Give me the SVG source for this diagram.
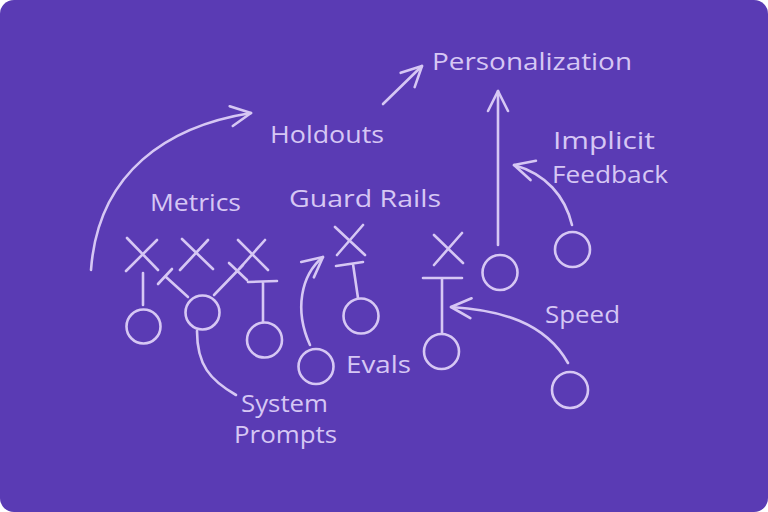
<svg xmlns="http://www.w3.org/2000/svg" width="768" height="512" viewBox="0 0 768 512">
<defs>
<style>
.ln{fill:none;stroke:#d6c7f4;stroke-width:2.6;stroke-linecap:round;stroke-linejoin:round}
.lb{font-family:"Open Sans","Liberation Sans",sans-serif;font-size:24px;fill:#d6c7f4;}
</style>
<marker id="ah" viewBox="-24 -14 28 28" markerWidth="28" markerHeight="28" refX="0" refY="0" orient="auto" markerUnits="userSpaceOnUse">
<path d="M-20,-10 L0,0 L-20,10" fill="none" stroke="#d6c7f4" stroke-width="2.6" stroke-linecap="round" stroke-linejoin="round"/>
</marker>
</defs>
<rect x="0" y="0" width="768" height="512" fill="#ffffff"/>
<rect x="0" y="0" width="768" height="512" rx="14" fill="#5a3bb4"/>

<g id="connectors" class="ln">
<path d="M91,270 C98,172 168,126 251,113" marker-end="url(#ah)"/>
<path d="M383,104 L422,66" marker-end="url(#ah)"/>
<path d="M498,245 L498,91" marker-end="url(#ah)"/>
<path d="M572,225 C565,196 546,174 514,165" marker-end="url(#ah)"/>
<path d="M568,363 C545,322 500,310 451,307" marker-end="url(#ah)"/>
<path d="M310,345 C294,310 301,275 323,257" marker-end="url(#ah)"/>
<path d="M197,331 C197,365 210,380 236,395"/>
<path d="M143,273 L143,305"/>
<path d="M188,297 L166,277 M158,284 L172,269"/>
<path d="M214,295 L243,265 M229,263 L247,280"/>
<path d="M263,322 L263,282 M248,282 L277,281"/>
<path d="M358,298 L353,264 M336,266 L363,262"/>
<path d="M442,333 L442,279 M423,278 L462,278"/>
</g>

<g id="x1" class="ln"><path d="M127,238 L158,270 M157,240 L126,271"/></g>
<g id="x2" class="ln"><path d="M182,239 L213,269 M208,240 L180,270"/></g>
<g id="x3" class="ln"><path d="M238,240 L268,270 M265,240 L240,268"/></g>
<g id="x4" class="ln"><path d="M335,227 L365,255 M363,225 L337,255"/></g>
<g id="x5" class="ln"><path d="M434,235 L463,263 M462,233 L434,265"/></g>

<g id="o1" class="ln"><circle cx="143.5" cy="326.5" r="17"/></g>
<g id="o2" class="ln"><circle cx="202.5" cy="312.5" r="17"/></g>
<g id="o3" class="ln"><circle cx="264.5" cy="340" r="17.5"/></g>
<g id="o4" class="ln"><circle cx="316" cy="366.5" r="17.5"/></g>
<g id="o5" class="ln"><circle cx="361" cy="316" r="17.5"/></g>
<g id="o6" class="ln"><circle cx="441.5" cy="351.5" r="17.5"/></g>
<g id="o7" class="ln"><circle cx="500" cy="272.5" r="17.5"/></g>
<g id="o8" class="ln"><circle cx="572.5" cy="249.5" r="17.5"/></g>
<g id="o9" class="ln"><circle cx="570" cy="390" r="18"/></g>

<g id="personalization"><text class="lb" x="432" y="70" textLength="200" lengthAdjust="spacingAndGlyphs">Personalization</text></g>
<g id="holdouts"><text class="lb" x="270" y="143" textLength="114" lengthAdjust="spacingAndGlyphs">Holdouts</text></g>
<g id="metrics"><text class="lb" x="150" y="211" textLength="91" lengthAdjust="spacingAndGlyphs">Metrics</text></g>
<g id="guardrails"><text class="lb" x="289" y="207" textLength="152" lengthAdjust="spacingAndGlyphs">Guard Rails</text></g>
<g id="implicit"><text class="lb" x="553" y="149" textLength="102" lengthAdjust="spacingAndGlyphs">Implicit</text>
<text class="lb" x="552" y="183" textLength="116" lengthAdjust="spacingAndGlyphs">Feedback</text></g>
<g id="speed"><text class="lb" x="545" y="323" textLength="75" lengthAdjust="spacingAndGlyphs">Speed</text></g>
<g id="evals"><text class="lb" x="346" y="373" textLength="65" lengthAdjust="spacingAndGlyphs">Evals</text></g>
<g id="systemprompts"><text class="lb" x="241" y="412" textLength="87" lengthAdjust="spacingAndGlyphs">System</text>
<text class="lb" x="234" y="443" textLength="103" lengthAdjust="spacingAndGlyphs">Prompts</text></g>
</svg>
